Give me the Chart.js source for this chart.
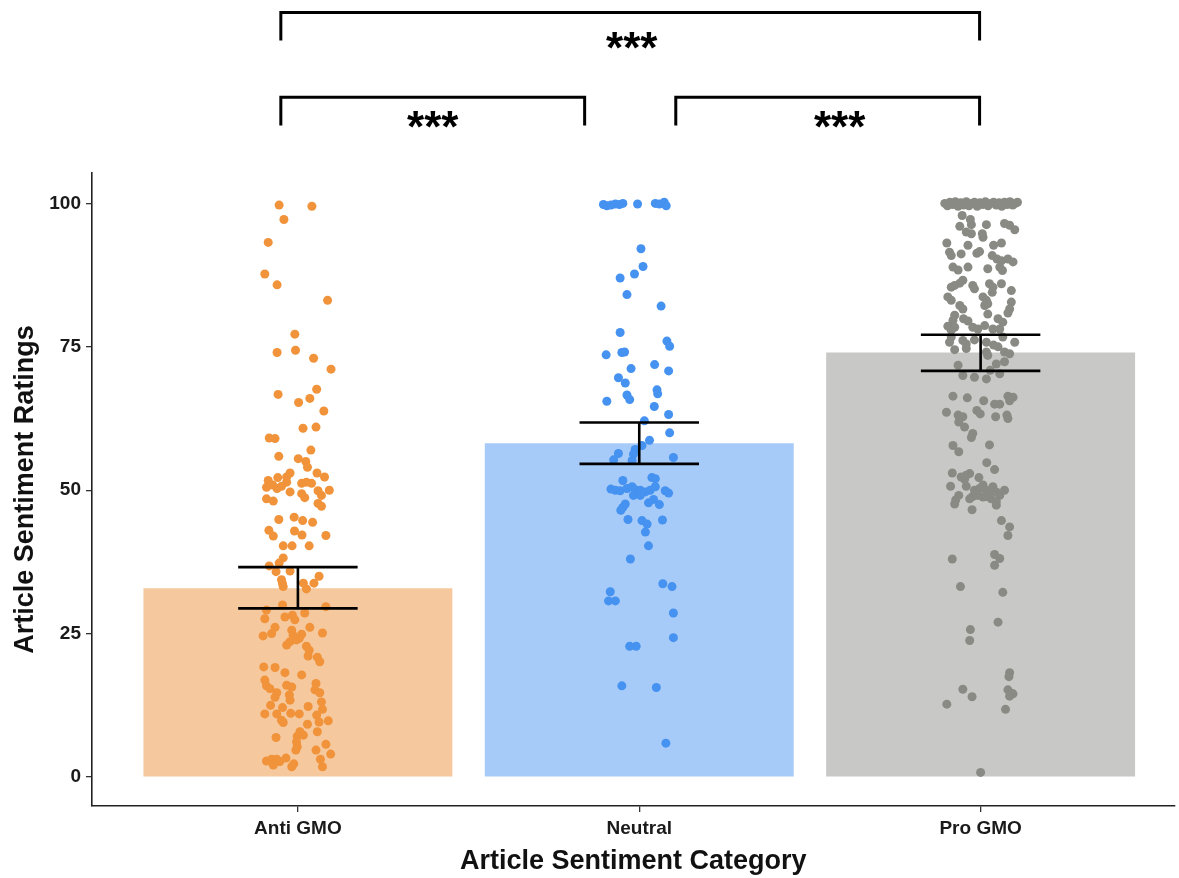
<!DOCTYPE html>
<html>
<head>
<meta charset="utf-8">
<script src="https://cdn.jsdelivr.net/npm/chart.js@4"></script>
<style>
  html, body { margin: 0; padding: 0; background: #ffffff; }
  #wrap { width: 1179px; height: 878px; }
</style>
</head>
<body>
<div id="wrap"><canvas id="c" width="1179" height="878"></canvas></div>
<script>
// ---------------- data ----------------
const categories = ['Anti GMO', 'Neutral', 'Pro GMO'];
const meanRatings = [32.9, 58.2, 74.0];
const errLow = [29.4, 54.6, 70.8];
const errHigh = [36.6, 61.8, 77.1];
const yTicks = [0, 25, 50, 75, 100];

// jittered individual ratings: [jitter (% of category width), rating]
const antiPoints = [
  [-5.5,99.7],[4.1,99.5],[-4.1,97.2],[-8.7,93.2],[-9.7,87.7],[-6.1,85.8],[8.7,83.1],[-0.9,77.2],
  [-6.1,74.0],[-0.7,74.4],[4.6,73.0],[9.7,71.1],[5.5,67.6],[-5.8,66.7],[0.2,65.3],[3.5,66.0],
  [7.6,63.8],[1.5,60.8],[5.3,61.0],[-8.4,59.1],[-6.7,59.0],[-5.6,55.9],[3.8,57.0],[0.1,55.5],
  [2.3,55.0],[2.8,54.0],[5.6,53.0],[7.8,52.3],[-2.3,53.0],[-3.3,52.3],[-5.9,52.2],[-8.7,51.7],
  [-7.4,50.9],[-6.1,50.3],[-4.8,50.7],[-3.3,51.4],[-9.2,50.5],[-2.3,49.7],[1.1,51.2],[2.5,51.4],
  [4.0,51.2],[1.1,49.4],[2.0,48.7],[5.9,49.9],[6.9,49.1],[9.2,50.0],[-9.2,48.5],[-7.2,48.1],
  [5.9,47.7],[6.9,47.2],[-5.6,44.9],[-1.1,45.3],[1.4,44.7],[4.3,44.4],[-8.5,43.0],[-7.2,42.0],
  [-1.0,42.9],[1.2,42.2],[8.2,42.1],[-4.3,40.3],[-1.7,40.3],[3.3,40.3],[-4.3,38.2],[-5.5,37.3],
  [-8.4,36.8],[-6.4,35.8],[-2.3,35.9],[6.2,35.0],[-4.8,34.4],[4.7,33.8],[-4.5,33.7],[-4.3,33.2],
  [1.6,33.8],[2.5,32.8],[-4.5,30.0],[8.2,29.7],[-9.2,29.1],[-9.7,27.6],[-3.8,27.9],[-1.6,28.2],
  [-0.9,27.4],[2.0,28.6],[-6.7,26.1],[-7.7,25.0],[-10.2,24.6],[-1.8,25.6],[-1.4,24.7],[3.5,26.1],
  [7.2,25.1],[1.1,24.9],[0.4,24.2],[-0.4,23.9],[-2.3,23.6],[-3.3,23.0],[2.5,22.8],[3.3,22.1],
  [3.0,21.1],[5.7,20.9],[6.4,20.1],[-10.0,19.2],[-6.7,19.1],[-3.8,18.2],[1.1,17.8],[-9.7,16.9],
  [-9.2,15.9],[-8.2,15.4],[-3.3,16.0],[-1.8,15.7],[5.3,16.3],[5.0,15.2],[6.4,14.7],[-6.2,14.7],
  [-6.7,13.9],[-2.5,14.3],[-2.3,13.4],[6.9,13.1],[-8.0,12.5],[-4.5,12.1],[3.0,12.3],[7.2,11.8],
  [5.5,10.8],[-9.7,11.0],[-6.2,11.0],[-2.1,11.1],[0.4,11.0],[-4.8,9.9],[-4.3,9.5],[6.2,9.6],
  [8.9,9.8],[2.8,9.2],[5.7,7.9],[0.6,7.9],[1.6,7.3],[-0.2,7.1],[-6.4,6.9],[-0.4,6.1],
  [-0.2,5.3],[-0.6,4.7],[8.2,5.7],[5.3,4.7],[9.6,4.0],[-9.2,2.8],[-7.7,3.1],[-6.2,3.1],
  [-5.3,2.7],[-7.2,2.1],[-3.5,3.3],[-1.2,2.3],[-1.8,1.8],[6.6,3.1],[7.2,1.8]
];
const neutralPoints = [
  [-10.5,99.8],[-9.5,99.6],[-8.3,99.7],[-7.0,99.9],[-5.8,99.8],[-4.8,100.0],[-0.5,99.9],
  [4.7,100.0],[5.9,99.9],[7.3,100.2],[7.9,99.6],
  [0.5,92.1],[1.1,89.0],[-1.4,87.7],[-5.6,87.0],[-3.6,84.1],[6.4,82.1],[-5.6,77.5],[8.1,76.0],
  [8.9,75.1],[-5.1,74.0],[-4.3,74.1],[-9.7,73.6],[-2.4,71.2],[4.5,71.9],[8.6,70.8],[-6.1,69.6],
  [-4.1,68.7],[5.2,67.5],[-9.5,65.5],[-3.6,66.6],[-2.8,65.8],[5.4,66.8],[4.4,64.6],[8.6,63.2],
  [1.5,62.1],[8.9,60.0],[3.0,58.7],[0.8,57.8],[-1.2,57.1],[-1.7,56.3],[-2.1,55.2],[-6.1,56.4],
  [-7.5,55.3],[10.0,55.7],[3.7,52.2],[4.7,52.0],[-4.8,51.7],[-8.3,50.2],[-7.0,50.0],[-5.6,49.9],
  [-3.6,50.3],[-2.1,50.6],[-1.2,50.1],[0.3,50.0],[1.8,49.7],[3.2,50.0],[4.7,50.6],[-1.7,49.1],
  [0.3,49.1],[7.6,49.9],[8.6,49.5],[4.2,48.4],[2.7,47.8],[5.9,47.5],[-4.1,47.6],[-4.8,47.0],
  [-5.4,46.5],[-3.3,44.9],[0.8,44.7],[2.3,44.1],[6.8,44.8],[1.8,42.7],[2.7,40.3],[-2.6,38.0],
  [6.9,33.7],[9.6,33.2],[-8.5,32.3],[-9.0,30.7],[-7.0,30.7],[10.0,28.6],[10.0,24.3],[-2.8,22.8],
  [-0.9,22.8],[-5.1,15.9],[5.0,15.6],[7.8,5.9]
];
const proPoints = [
  [-10.5,100.0],[-9.7,99.6],[-9.0,100.2],[-8.2,99.8],[-7.4,100.3],[-6.6,99.5],[-5.8,100.1],
  [-5.0,99.7],[-4.2,100.3],[-3.4,99.6],[-2.6,100.0],[-1.8,100.2],[-1.0,99.5],[-0.2,100.1],
  [0.6,99.8],[1.4,100.3],[2.2,99.6],[3.0,100.0],[3.8,100.2],[4.6,99.7],[5.4,100.1],[6.2,99.5],
  [7.0,100.2],[7.8,99.8],[8.6,100.3],[9.4,99.7],[10.2,100.0],[10.8,100.2],
  [-5.4,97.9],[-3.0,97.2],[-2.7,96.3],[-6.1,96.0],[-4.2,95.0],[-2.7,94.7],[1.7,96.3],[7.0,96.5],
  [8.5,96.2],[10.0,95.4],[0.5,94.7],[0.7,94.1],[-9.9,93.1],[-3.7,92.7],[3.8,92.7],[6.1,93.1],
  [-9.1,91.5],[-8.6,90.9],[-5.7,91.2],[-1.1,91.3],[-0.3,91.6],[3.4,90.9],[4.8,90.3],[6.1,90.0],
  [9.5,89.8],[8.0,90.3],[-8.1,88.9],[-6.6,88.4],[-3.7,88.9],[2.1,88.6],[5.6,88.9],[6.4,88.3],
  [-5.2,86.6],[-6.1,86.1],[-7.6,85.7],[-8.6,85.4],[-2.3,85.7],[-1.8,85.1],[2.6,86.0],[3.6,85.4],
  [6.1,86.0],[3.4,84.5],[9.0,84.8],[-9.6,83.7],[-8.6,83.1],[0.7,83.7],[1.7,83.1],[1.2,82.2],
  [2.1,82.5],[9.0,82.8],[8.5,81.6],[8.0,80.9],[-6.1,82.2],[-5.2,81.6],[-7.6,80.5],[-8.1,79.6],
  [-5.0,79.9],[-3.7,79.5],[2.1,80.7],[5.1,79.9],[6.5,79.3],[-9.6,78.6],[-8.6,77.9],[-7.6,78.4],
  [-2.3,78.4],[-0.8,78.1],[1.2,78.7],[3.6,78.1],[5.6,78.1],[-8.6,76.7],[-9.1,75.8],[-5.2,76.1],
  [-4.2,75.5],[-1.8,76.2],[1.7,75.8],[3.8,75.3],[10.0,75.8],[6.5,76.7],[-4.2,74.7],[-7.6,74.5],
  [1.7,74.1],[2.1,73.5],[5.1,75.0],[7.0,74.1],[8.5,73.8],[-6.6,71.8],[4.6,72.0],[7.0,72.4],
  [2.8,70.9],[-5.2,70.0],[-1.8,69.7],[1.7,69.4],[5.6,70.3],[-8.1,66.4],[-3.9,66.1],[0.9,65.6],
  [8.0,66.4],[9.5,66.2],[8.5,65.6],[4.1,65.0],[5.6,65.0],[-10.0,63.6],[-1.1,63.9],[-0.1,63.3],
  [-6.6,63.1],[-5.2,62.8],[-6.4,61.9],[-4.7,61.0],[4.4,62.8],[7.7,63.1],[8.0,62.5],[-2.3,59.9],
  [-2.7,59.2],[-8.1,57.8],[-6.4,56.7],[2.6,57.9],[1.8,54.8],[4.1,53.6],[-8.3,53.0],[-5.7,52.3],
  [-4.7,51.9],[-3.2,52.9],[-4.2,52.6],[-0.5,52.2],[-8.8,50.7],[-4.2,50.7],[-1.8,50.0],[-0.3,50.3],
  [0.7,50.9],[1.7,50.0],[2.6,49.4],[3.6,50.6],[4.6,49.7],[5.6,49.1],[7.0,50.0],[-0.8,49.1],
  [0.7,48.8],[3.1,48.5],[4.6,48.0],[-2.3,48.9],[1.7,48.9],[-6.4,49.1],[-7.3,48.3],[-7.6,47.6],
  [-3.2,48.5],[4.6,47.4],[-2.5,46.6],[6.1,44.7],[8.5,43.6],[8.0,42.1],[-8.3,38.0],[4.1,38.8],
  [5.6,38.1],[4.1,36.9],[-5.9,33.2],[6.5,32.2],[5.1,27.0],[-3.0,25.7],[-3.2,23.8],[8.5,18.2],
  [8.3,17.5],[-5.2,15.3],[-2.5,14.0],[8.0,15.2],[9.0,14.6],[8.5,14.1],[9.5,14.5],[-9.9,12.7],
  [7.3,11.8],[0.0,0.8]
];

// significance comparisons (category positions, levels in rating units)
const bracketStart = [0.95, 0.95, 2.107];
const bracketEnd   = [2.997, 1.84, 2.997];
const bracketLevel = [133.3, 118.5, 118.5];
const bracketLabelX = [1.978, 1.395, 2.587];
const bracketLabelLevel = [128.3, 114.5, 114.5];
const bracketLabels = ['***', '***', '***'];

// ---------------- styling ----------------
const barColors   = ['#F5C89D', '#A7CBF8', '#C8C8C7'];
const pointColors = ['#F0933A', '#4592F0', '#8A8A84'];
const FONT = '"Liberation Sans", Arial, sans-serif';

const groups = [antiPoints, neutralPoints, proPoints];
const scatterSets = groups.map((pts, i) => ({
  type: 'scatter',
  label: categories[i],
  data: pts.map(p => ({ x: i + 1 + p[0] / 100, y: p[1] })),
  backgroundColor: pointColors[i],
  borderWidth: 0,
  pointRadius: 4.5,
  pointHoverRadius: 4.5,
  order: 1
}));

const errorBarPlugin = {
  id: 'errorBars',
  afterDatasetsDraw(chart) {
    const { ctx, scales: { x, y } } = chart;
    ctx.save();
    ctx.strokeStyle = '#000';
    ctx.lineWidth = 2.6;
    ctx.lineCap = 'butt';
    for (let i = 0; i < categories.length; i++) {
      const cx = x.getPixelForValue(i + 1);
      const l = x.getPixelForValue(i + 1 - 0.175);
      const r = x.getPixelForValue(i + 1 + 0.175);
      const yl = y.getPixelForValue(errLow[i]);
      const yh = y.getPixelForValue(errHigh[i]);
      ctx.beginPath();
      ctx.moveTo(l, yh); ctx.lineTo(r, yh);
      ctx.moveTo(l, yl); ctx.lineTo(r, yl);
      ctx.moveTo(cx, yh); ctx.lineTo(cx, yl);
      ctx.stroke();
    }
    ctx.restore();
  }
};

const bracketPlugin = {
  id: 'brackets',
  afterDraw(chart) {
    const { ctx, scales: { x, y } } = chart;
    ctx.save();
    ctx.strokeStyle = '#000';
    ctx.lineWidth = 3;
    ctx.lineJoin = 'miter';
    for (let i = 0; i < bracketStart.length; i++) {
      const x0 = x.getPixelForValue(bracketStart[i]);
      const x1 = x.getPixelForValue(bracketEnd[i]);
      const yTop = y.getPixelForValue(bracketLevel[i]);
      const yLeg = y.getPixelForValue(bracketLevel[i] - 4.9);
      ctx.beginPath();
      ctx.moveTo(x0, yLeg); ctx.lineTo(x0, yTop); ctx.lineTo(x1, yTop); ctx.lineTo(x1, yLeg);
      ctx.stroke();
      ctx.fillStyle = '#000';
      ctx.font = 'bold 44px ' + FONT;
      ctx.textAlign = 'center';
      ctx.textBaseline = 'alphabetic';
      const ly = y.getPixelForValue(bracketLabelLevel[i]);
      ctx.fillText(bracketLabels[i], x.getPixelForValue(bracketLabelX[i]), ly + 22);
    }
    ctx.restore();
  }
};

new Chart(document.getElementById('c'), {
  type: 'bar',
  data: {
    datasets: [
      {
        type: 'bar',
        label: 'Mean',
        data: categories.map((c, i) => ({ x: i + 1, y: meanRatings[i] })),
        backgroundColor: barColors,
        borderWidth: 0,
        barPercentage: 0.905,
        categoryPercentage: 1.0,
        order: 2
      },
      ...scatterSets
    ]
  },
  options: {
    responsive: false,
    animation: false,
    events: [],
    layout: { padding: { top: 173, right: 0, bottom: 0, left: 0 } },
    plugins: { legend: { display: false }, tooltip: { enabled: false } },
    scales: {
      x: {
        type: 'linear',
        offset: false,
        min: 0.3968,
        max: 3.568,
        afterBuildTicks(scale) { scale.ticks = [1, 2, 3].map(v => ({ value: v })); },
        afterFit(scale) { scale.height = 72; },
        ticks: {
          callback: (v) => categories[v - 1] || '',
          color: '#1a1a1a',
          font: { family: FONT, size: 19, weight: 'bold' },
          padding: 5,
          maxRotation: 0,
          autoSkip: false
        },
        grid: { display: true, offset: false, drawOnChartArea: false, drawTicks: true, tickLength: 6, color: '#333', lineWidth: 1.3 },
        border: { display: true, color: '#222', width: 1.6 },
        title: {
          display: true,
          text: 'Article Sentiment Category',
          color: '#111',
          font: { family: FONT, size: 27, weight: 'bold' },
          padding: { top: 0, bottom: 0 }
        }
      },
      y: {
        type: 'linear',
        min: -5.05,
        max: 105.3,
        afterBuildTicks(scale) { scale.ticks = yTicks.map(v => ({ value: v })); },
        afterFit(scale) { scale.width = 92; },
        ticks: {
          color: '#1a1a1a',
          font: { family: FONT, size: 19, weight: 'bold' },
          padding: 5
        },
        grid: { display: true, drawOnChartArea: false, drawTicks: true, tickLength: 6, color: '#333', lineWidth: 1.3 },
        border: { display: true, color: '#222', width: 1.6 },
        title: {
          display: true,
          text: 'Article Sentiment Ratings',
          color: '#111',
          font: { family: FONT, size: 27, weight: 'bold' },
          padding: { top: 9, bottom: 0 }
        }
      }
    }
  },
  plugins: [errorBarPlugin, bracketPlugin]
});
</script>
</body>
</html>
